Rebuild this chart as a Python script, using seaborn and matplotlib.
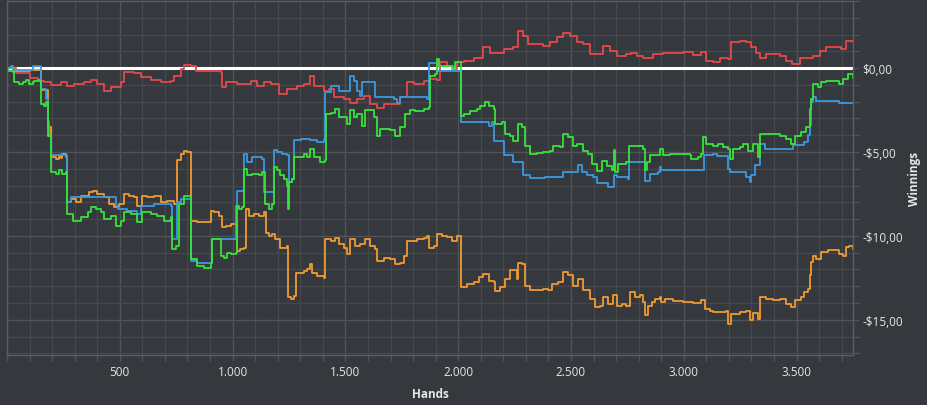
import numpy as np
import pandas as pd
import matplotlib
matplotlib.use("Agg")
import matplotlib.pyplot as plt
from matplotlib.ticker import FuncFormatter, MultipleLocator
import seaborn as sns

# colours
BG = "#35383c"
GRID_MAJOR = "#505357"
GRID_MINOR = "#45484c"
TEXT = "#e6e6e6"

# --- data (hands, winnings in $) ---
red_hands = [0, 40, 100, 136, 165, 195, 239, 268, 298, 342, 372, 401, 431, 460, 504, 519, 563, 593, 637,
             681, 726, 740, 770, 785, 814, 836, 873, 903, 947, 954, 969, 1020, 1080, 1109, 1139, 1168,
             1205, 1242, 1286, 1316, 1345, 1360, 1404, 1426, 1448, 1493, 1522, 1552, 1581, 1611, 1640,
             1670, 1706, 1743, 1773, 1802, 1847, 1876, 1906, 1920, 1950, 1979, 1994, 2024, 2068, 2112,
             2142, 2171, 2201, 2245, 2267, 2289, 2311, 2348, 2378, 2407, 2437, 2466, 2496, 2525, 2555,
             2584, 2614, 2643, 2673, 2702, 2746, 2768, 2791, 2820, 2835, 2864, 2909, 2953, 2997, 3041,
             3078, 3100, 3130, 3159, 3196, 3211, 3248, 3277, 3299, 3322, 3336, 3366, 3395, 3425, 3454,
             3481, 3513, 3543, 3572, 3602, 3631, 3661, 3698, 3720, 3749]
red_vals = [0.0, -0.3, -0.6, -0.75, -0.85, -1.0, -0.85, -1.05, -0.95, -0.85, -0.7, -0.95, -1.35, -1.1,
            -0.85, -0.26, -0.3, -0.55, -0.7, -0.85, -0.75, -0.5, -0.06, 0.18, 0.14, -0.2, -0.2, -0.16,
            -0.26, -1.15, -0.85, -0.95, -0.75, -1.05, -0.8, -0.95, -1.55, -1.25, -1.05, -0.95, -0.5,
            -1.05, -1.35, -1.25, -1.75, -1.85, -2.05, -1.85, -1.65, -2.15, -2.35, -2.15, -2.15, -1.75,
            -0.85, -0.95, -0.75, -0.65, -0.7, 0.34, 0.14, -0.06, 0.34, 0.44, 0.63, 1.23, 0.93, 0.93,
            1.13, 1.23, 2.22, 1.92, 1.43, 1.43, 1.33, 1.53, 1.83, 2.12, 1.92, 1.53, 1.43, 0.83, 0.83,
            1.33, 1.03, 0.73, 0.83, 0.93, 0.73, 0.63, 0.58, 0.83, 0.93, 0.93, 0.97, 0.77, 0.97, 0.44,
            0.34, 0.63, 0.54, 1.53, 1.63, 1.53, 1.23, 0.93, 0.63, 0.83, 0.83, 0.73, 0.44, 0.24, 0.63,
            0.63, 0.73, 1.03, 1.23, 1.23, 1.13, 1.63, 1.53]

blue_hands = [0, 18, 25, 114, 150, 173, 180, 187, 195, 268, 285, 445, 482, 490, 534, 578, 593, 652, 726,
              733, 755, 770, 814, 844, 910, 1013, 1020, 1050, 1065, 1087, 1131, 1139, 1183, 1198, 1220,
              1242, 1249, 1264, 1271, 1301, 1345, 1375, 1404, 1411, 1434, 1470, 1522, 1537, 1552, 1566,
              1574, 1633, 1714, 1729, 1743, 1817, 1862, 1869, 1906, 2012, 2135, 2149, 2157, 2201, 2245,
              2289, 2319, 2385, 2466, 2533, 2547, 2570, 2599, 2614, 2665, 2692, 2702, 2754, 2758, 2828,
              2849, 2886, 2894, 2901, 3089, 3130, 3145, 3196, 3204, 3277, 3292, 3299, 3314, 3336, 3358,
              3484, 3535, 3550, 3558, 3565, 3572, 3587, 3690, 3749]
blue_vals = [0.0, 0.14, -0.1, 0.14, -1.25, -1.85, -3.13, -4.03, -5.2, -8.0, -7.7, -7.7, -8.2, -8.4, -8.5,
             -8.7, -8.2, -8.1, -8.2, -10.2, -8.0, -7.8, -11.5, -11.6, -10.2, -8.2, -7.3, -5.1, -5.6,
             -5.3, -5.4, -7.4, -4.9, -5.0, -5.1, -5.2, -6.8, -6.6, -4.3, -4.2, -4.3, -4.4, -4.3, -1.45,
             -1.05, -1.35, -0.45, -0.75, -1.35, -1.65, -0.85, -1.75, -1.85, -2.05, -1.75, -1.75, -1.85,
             0.3, -0.16, -3.23, -3.43, -3.23, -4.33, -5.18, -5.6, -6.37, -6.57, -6.47, -6.2, -5.8, -6.2,
             -6.4, -6.5, -6.85, -7.1, -6.4, -6.5, -6.6, -5.6, -6.7, -6.3, -6.2, -5.9, -6.1, -5.2, -5.1,
             -5.26, -6.0, -6.2, -6.5, -6.8, -6.4, -5.8, -4.5, -4.8, -4.6, -4.4, -4.0, -3.4, -2.0, -1.7,
             -1.95, -2.1, -2.1]

green_hands = [0, 3, 25, 32, 55, 69, 84, 99, 114, 121, 136, 147, 150, 165, 173, 180, 195, 217, 232, 246,
               261, 268, 291, 327, 357, 372, 394, 416, 431, 460, 482, 504, 519, 549, 578, 600, 637, 667,
               696, 726, 733, 748, 763, 785, 814, 844, 873, 903, 910, 947, 962, 976, 991, 1013, 1018,
               1028, 1043, 1050, 1065, 1087, 1117, 1131, 1142, 1161, 1176, 1183, 1198, 1212, 1227, 1242,
               1245, 1249, 1264, 1271, 1316, 1330, 1345, 1360, 1389, 1411, 1416, 1434, 1456, 1470, 1507,
               1522, 1537, 1552, 1574, 1588, 1625, 1640, 1655, 1699, 1721, 1743, 1765, 1788, 1810, 1847,
               1869, 1876, 1898, 1906, 1913, 1935, 1972, 1987, 2006, 2012, 2024, 2053, 2083, 2098, 2120,
               2135, 2157, 2164, 2193, 2208, 2230, 2245, 2267, 2282, 2296, 2319, 2348, 2378, 2407, 2422,
               2451, 2466, 2488, 2510, 2525, 2555, 2577, 2592, 2614, 2636, 2658, 2680, 2690, 2695, 2710,
               2746, 2758, 2820, 2827, 2838, 2849, 2894, 2908, 2938, 3027, 3034, 3063, 3078, 3086, 3100,
               3130, 3152, 3174, 3196, 3204, 3218, 3248, 3263, 3285, 3307, 3329, 3336, 3395, 3425, 3454,
               3477, 3491, 3521, 3543, 3558, 3565, 3572, 3595, 3609, 3631, 3661, 3690, 3705, 3727, 3749]
green_vals = [0.0, -0.16, -0.26, -0.85, -0.95, -0.85, -0.7, -0.95, -0.85, -0.75, -0.7, -0.75, -2.14,
              -2.24, -2.04, -4.03, -6.2, -6.3, -6.1, -6.3, -6.2, -8.7, -9.1, -8.9, -8.6, -8.3, -8.4, -8.6,
              -9.0, -8.8, -9.4, -9.1, -8.6, -8.7, -9.2, -8.6, -8.7, -8.8, -9.1, -8.9, -10.8, -10.6, -8.1,
              -7.6, -11.4, -11.8, -11.9, -11.6, -10.2, -11.2, -11.3, -11.0, -11.1, -11.0, -8.2, -8.4,
              -8.3, -6.0, -6.4, -6.3, -6.4, -6.2, -8.1, -8.4, -8.1, -5.9, -6.1, -6.4, -6.6, -7.0, -8.4,
              -6.8, -6.6, -5.3, -5.1, -5.3, -4.8, -5.3, -5.6, -5.5, -2.74, -2.65, -2.44, -2.94, -3.33,
              -2.5, -2.94, -2.74, -3.43, -2.5, -2.94, -4.03, -3.63, -3.7, -4.03, -3.53, -2.74, -2.5, -2.55,
              -2.44, -2.34, -0.46, -0.36, 0.54, 0.14, 0.14, -0.06, 0.34, 0.34, -2.84, -2.74, -2.54, -2.44,
              -2.28, -2.04, -2.28, -2.44, -3.33, -3.23, -3.93, -4.03, -4.33, -3.33, -3.53, -4.62, -5.12,
              -5.06, -5.0, -4.92, -4.62, -4.72, -3.93, -4.13, -4.62, -4.52, -4.92, -5.12, -5.71, -6.11,
              -5.51, -5.81, -6.1, -4.9, -6.2, -5.71, -5.61, -4.62, -4.82, -6.1, -5.6, -5.2, -4.82, -5.2,
              -5.1, -5.2, -5.42, -5.32, -5.1, -4.13, -4.52, -4.62, -4.52, -4.72, -4.82, -5.42, -4.82,
              -4.72, -4.52, -4.92, -4.52, -5.32, -3.93, -3.93, -4.03, -4.23, -4.52, -4.03, -3.83, -3.53,
              -2.44, -1.85, -0.95, -1.15, -0.85, -0.75, -0.75, -0.95, -0.65, -0.36, -0.56]

orange_hands = [0, 30, 100, 150, 180, 195, 217, 232, 239, 246, 261, 268, 283, 305, 327, 364, 379, 401,
                431, 453, 475, 497, 519, 541, 563, 578, 600, 622, 652, 681, 711, 740, 755, 770, 785, 800,
                814, 844, 873, 903, 918, 940, 954, 969, 991, 1013, 1018, 1035, 1050, 1058, 1072, 1094,
                1117, 1139, 1146, 1161, 1176, 1190, 1212, 1242, 1245, 1257, 1271, 1279, 1301, 1316, 1330,
                1345, 1352, 1375, 1404, 1411, 1434, 1456, 1470, 1493, 1507, 1522, 1544, 1566, 1588, 1611,
                1633, 1640, 1670, 1699, 1721, 1743, 1758, 1773, 1788, 1817, 1847, 1862, 1869, 1891, 1906,
                1928, 1950, 1972, 1994, 2013, 2038, 2068, 2090, 2112, 2135, 2157, 2164, 2186, 2208, 2230,
                2260, 2267, 2282, 2296, 2319, 2348, 2378, 2400, 2415, 2444, 2466, 2488, 2510, 2533, 2555,
                2584, 2606, 2629, 2643, 2665, 2687, 2702, 2724, 2746, 2761, 2783, 2806, 2820, 2827, 2842,
                2857, 2872, 2894, 2901, 2916, 2953, 2997, 3041, 3078, 3093, 3115, 3130, 3159, 3189, 3196,
                3211, 3248, 3277, 3292, 3307, 3329, 3336, 3366, 3395, 3425, 3454, 3477, 3491, 3521, 3535,
                3550, 3558, 3565, 3572, 3587, 3609, 3639, 3661, 3690, 3705, 3720, 3734, 3749]
orange_vals = [0.0, -0.2, -0.1, -1.3, -3.5, -5.3, -5.4, -5.26, -5.35, -5.1, -5.3, -8.0, -7.8, -8.0,
               -7.6, -7.4, -7.3, -7.5, -7.7, -8.1, -8.3, -8.1, -7.5, -7.6, -7.7, -8.2, -7.6, -7.7, -7.6,
               -8.0, -7.9, -8.1, -5.5, -5.1, -4.92, -5.0, -9.1, -9.2, -9.15, -8.5, -8.6, -8.8, -9.5, -9.4,
               -9.3, -9.2, -10.9, -10.8, -10.7, -8.4, -8.8, -8.7, -8.8, -8.6, -9.8, -10.0, -9.9, -10.2,
               -10.7, -10.6, -13.65, -13.75, -13.6, -12.2, -12.2, -12.1, -12.0, -11.7, -12.2, -12.4,
               -12.5, -10.2, -10.3, -10.1, -10.5, -10.7, -11.1, -10.2, -10.6, -10.5, -10.2, -10.6, -10.8,
               -11.5, -11.3, -11.4, -11.7, -11.6, -11.2, -10.3, -10.3, -10.2, -10.1, -10.0, -10.7, -10.6,
               -9.88, -9.98, -10.08, -10.28, -9.98, -13.06, -12.86, -12.76, -12.46, -12.26, -12.66,
               -12.76, -13.26, -13.06, -12.56, -12.06, -12.56, -11.6, -11.7, -12.96, -13.25, -13.25,
               -13.15, -13.25, -12.86, -12.76, -12.16, -12.36, -12.96, -12.56, -13.25, -13.75, -14.25,
               -14.15, -13.65, -14.05, -13.55, -14.15, -14.05, -14.15, -13.35, -13.65, -13.55, -13.95,
               -14.74, -14.15, -13.95, -13.75, -13.65, -13.95, -13.75, -13.9, -13.95, -14.0, -13.8,
               -14.35, -14.45, -14.54, -14.54, -14.45, -15.24, -14.64, -14.54, -14.45, -15.04, -14.6,
               -14.94, -13.65, -13.75, -13.85, -13.75, -14.05, -14.25, -13.85, -13.65, -13.35, -13.15,
               -12.36, -11.57, -11.17, -11.37, -10.97, -10.87, -10.87, -11.07, -11.17, -10.67, -10.58,
               -10.77]

players = ["red", "orange", "blue", "green"]
palette = {"red": "#e5484b", "orange": "#f29a30", "blue": "#3a9ae0", "green": "#38e23a"}

frames = []
for name, h, v in [("red", red_hands, red_vals), ("orange", orange_hands, orange_vals),
                   ("blue", blue_hands, blue_vals), ("green", green_hands, green_vals)]:
    frames.append(pd.DataFrame({"hands": h, "winnings": v, "player": name}))
df = pd.concat(frames, ignore_index=True)

sns.set_style("dark", rc={"axes.facecolor": BG, "figure.facecolor": BG})
plt.rcParams["font.family"] = ["Open Sans", "DejaVu Sans"]

fig = plt.figure(figsize=(9.27, 4.06), dpi=100, facecolor=BG)
ax = fig.add_axes([7 / 927, 50 / 406, 846 / 927, 354 / 406])
ax.set_facecolor(BG)

ax.axhline(0, color="white", lw=2.2, zorder=1.5)
sns.lineplot(data=df, x="hands", y="winnings", hue="player", hue_order=players, palette=palette,
             estimator=None, sort=False, drawstyle="steps-post", linewidth=1.3, legend=False, ax=ax)

ax.set_xlim(0, 3750)
ax.set_ylim(-17.1, 4.0)

# grid + ticks
ax.xaxis.set_major_locator(MultipleLocator(500))
ax.xaxis.set_minor_locator(MultipleLocator(100))
ax.yaxis.set_major_locator(MultipleLocator(5))
ax.yaxis.set_minor_locator(MultipleLocator(1))
ax.grid(which="major", color=GRID_MAJOR, lw=1.0)
ax.grid(which="minor", color=GRID_MINOR, lw=0.9)
ax.set_axisbelow(True)

ax.xaxis.set_major_formatter(FuncFormatter(lambda x, p: "" if x <= 0 else f"{int(x):,}".replace(",", ".")))
ax.yaxis.set_major_formatter(FuncFormatter(
    lambda y, p: f"{'-' if y < 0 else ''}${abs(y):.2f}".replace(".", ",")))

ax.yaxis.tick_right()
ax.yaxis.set_label_position("right")
ax.tick_params(axis="both", which="both", length=4, width=1, color=GRID_MAJOR,
               labelcolor=TEXT, labelsize=8.5, direction="out")
ax.tick_params(axis="x", which="both", bottom=True, pad=3)
ax.tick_params(axis="y", which="both", left=False, right=True, pad=3)

for s in ax.spines.values():
    s.set_visible(True)
    s.set_color("#5a5d61")
    s.set_linewidth(1)

ax.set_xlabel("Hands", color=TEXT, fontsize=8.5, fontweight="bold", labelpad=7)
ax.set_ylabel("Winnings", color=TEXT, fontsize=8.5, fontweight="bold", labelpad=3)

fig.savefig("out.png", dpi=100, facecolor=BG)
